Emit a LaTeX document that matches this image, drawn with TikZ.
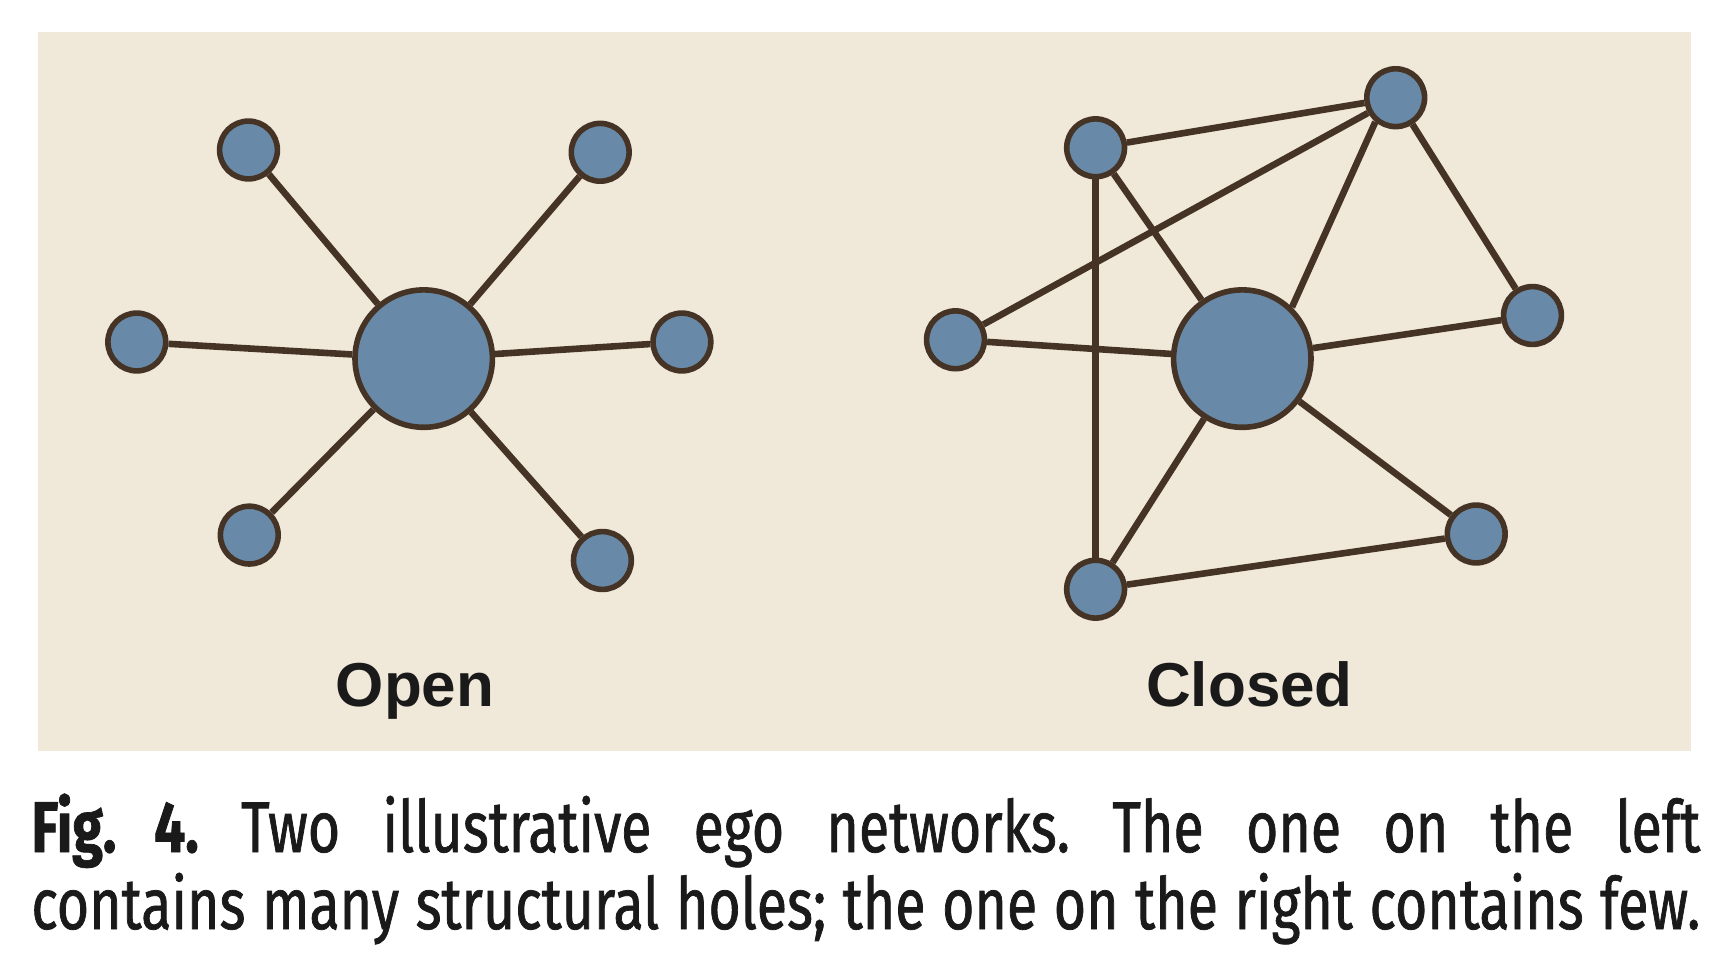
\documentclass[tikz,border=0pt]{standalone}
\usepackage{fontspec}
\usepackage{xcolor}
\usetikzlibrary{positioning}
\newfontfamily\labelfont{Liberation Sans}
\newfontfamily\captionfont[FakeStretch=0.77,FakeBold=1]{Fira Sans}
\definecolor{PaperTan}{RGB}{240,232,216}
\definecolor{NodeBlue}{RGB}{104,138,168}
\definecolor{EdgeBrown}{RGB}{69,52,38}
\definecolor{TextBlack}{RGB}{26,26,26}
\frenchspacing
\begin{document}
\begin{tikzpicture}[x=0.5pt,y=-0.5pt,
    hub/.style={circle, fill=NodeBlue, draw=EdgeBrown, line width=2.8pt, minimum size=68.7pt, inner sep=0pt},
    leaf/.style={circle, fill=NodeBlue, draw=EdgeBrown, line width=2.8pt, minimum size=28.9pt, inner sep=0pt},
    tie/.style={EdgeBrown, line width=3.3pt},
    netlabel/.style={font=\labelfont\bfseries\fontsize{31pt}{34pt}\selectfont, text=TextBlack, anchor=base},
    capline/.style={font=\captionfont\fontsize{36pt}{40pt}\selectfont, text=TextBlack, anchor=base west, inner sep=0pt}]
        \useasboundingbox (0,0) rectangle (1730,968);
        \fill[PaperTan] (38,32) rectangle (1691,751);
        % open network
        \node[hub] (ohub) at (423.7,358.6) {};
        \node[leaf] (olt) at (248.5,150) {};
        \node[leaf] (ort) at (600.2,152.3) {};
        \node[leaf] (ol) at (136.8,342) {};
        \node[leaf] (or) at (681.9,342) {};
        \node[leaf] (olb) at (249.3,535.1) {};
        \node[leaf] (orb) at (602.4,560.5) {};
        \foreach \n in {olt,ort,ol,or,olb,orb} \draw[tie] (ohub) -- (\n);
        % closed network
        \node[hub] (chub) at (1242.3,358.6) {};
        \node[leaf] (ca) at (1095.6,147.8) {};
        \node[leaf] (cb) at (1395.7,97.7) {};
        \node[leaf] (cc) at (955.5,339.8) {};
        \node[leaf] (cd) at (1532.5,315.5) {};
        \node[leaf] (ce) at (1476.2,534) {};
        \node[leaf] (cf) at (1095.6,589.2) {};
        \foreach \a/\b in {ca/cb,ca/chub,ca/cf,cc/cb,cc/chub,cb/cd,chub/cd,chub/ce,chub/cf,cf/ce}
            \draw[tie] (\a) -- (\b);
        \draw[tie] (chub.46) -- (cb.230);
        \node[netlabel] (openlbl) at (415,706.7) {Open};
        \node[netlabel] (closedlbl) at (1249.5,706.7) {Closed};
        % caption
        \node[capline] (cap1) at (31,852) {\makebox[834.5pt][s]{\bfseries Fig. 4.\mdseries\ Two illustrative ego networks. The one on the left}};
        \node[capline] (cap2) at (31,929) {\makebox[834.5pt][s]{contains many structural holes; the one on the right contains few.}};
\end{tikzpicture}
\end{document}
